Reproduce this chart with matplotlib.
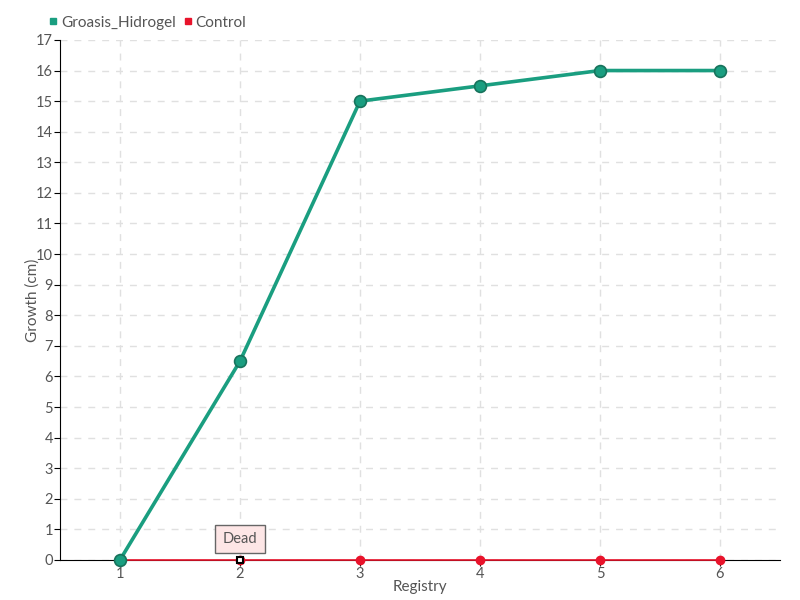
import matplotlib
matplotlib.use("Agg")
import matplotlib.pyplot as plt
from matplotlib.lines import Line2D

registry = [1, 2, 3, 4, 5, 6]
groasis = [0, 6.5, 15, 15.5, 16, 16]
control = [0, 0, 0, 0, 0, 0]
yticks = list(range(0, 18))

plt.rcParams['font.family'] = ['Lato', 'DejaVu Sans']

txt = "#555555"
teal = "#1a9e80"
teal_dark = "#17735c"
red = "#e8132b"

fig = plt.figure(figsize=(8, 6), dpi=100)
ax = fig.add_axes([0.075, 0.0667, 0.9, 0.8667])

ax.plot(registry, control, color=red, lw=1.2, marker='o', ms=6,
        mfc=red, mec=red, zorder=3, clip_on=False)
ax.plot(registry, groasis, color=teal, lw=2.6, marker='o', ms=8.5,
        mfc=teal, mec=teal_dark, mew=1.2, zorder=4, clip_on=False)

# highlighted point
ax.plot([2], [0], marker='s', ms=5, mfc='white', mec='black', mew=1.5, zorder=6, clip_on=False)
ax.annotate("Dead", xy=(2, 0), xytext=(2, 0.69), ha='center', va='center',
            fontsize=10.5, color=txt,
            bbox=dict(boxstyle='square,pad=0.5', fc='#fde6e6', ec='#666666', lw=1),
            zorder=7)

ax.set_xlim(0.5, 6.5)
ax.set_ylim(0, 17)
ax.set_xticks(registry)
ax.set_yticks(yticks)
ax.grid(True, ls=(0, (5, 5)), color='#e0e0e0', lw=1)
ax.set_axisbelow(True)
for s in ['top', 'right']:
    ax.spines[s].set_visible(False)
ax.spines['left'].set_color('black')
ax.spines['bottom'].set_color('black')
ax.tick_params(axis='both', colors=txt, labelsize=10.5, length=4, pad=1)
ax.tick_params(axis='both', color='black')
ax.set_xlabel("Registry", color=txt, fontsize=11, labelpad=-1)
ax.set_ylabel("Growth (cm)", color=txt, fontsize=11, labelpad=-3)

handles = [Line2D([], [], ls='none', marker='s', ms=5, mfc=teal, mec=teal),
           Line2D([], [], ls='none', marker='s', ms=5, mfc=red, mec=red)]
fig.legend(handles, ["Groasis_Hidrogel", "Control"], loc='upper left',
           bbox_to_anchor=(0.042, 0.997), ncol=2, frameon=False, fontsize=11,
           handletextpad=0.1, columnspacing=0.4, labelcolor=txt, handlelength=0.8)

fig.savefig("out.png", dpi=100)
